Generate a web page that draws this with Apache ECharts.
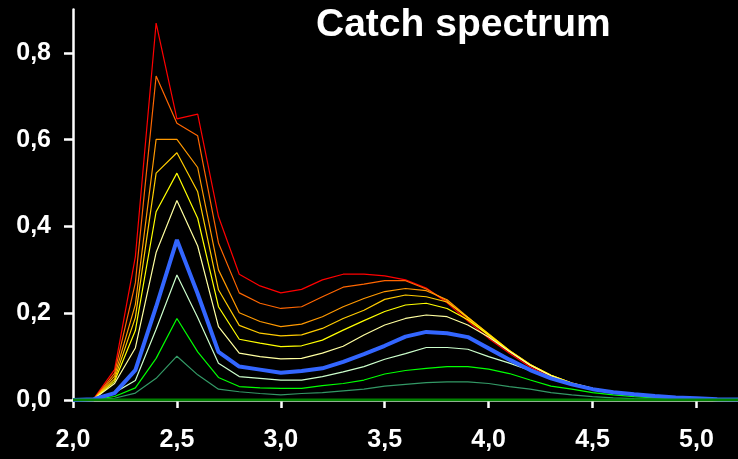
<!DOCTYPE html>
<html>
<head>
<meta charset="utf-8">
<script src="https://cdn.jsdelivr.net/npm/echarts@6/dist/echarts.min.js"></script>
<style>
html,body{margin:0;padding:0;background:#000;}
#chart{width:738px;height:459px;}
</style>
</head>
<body>
<div id="chart"></div>
<script>
var xValues = [2.0,2.1,2.2,2.3,2.4,2.5,2.6,2.7,2.8,2.9,3.0,3.1,3.2,3.3,3.4,3.5,3.6,3.7,3.8,3.9,4.0,4.1,4.2,4.3,4.4,4.5,4.6,4.7,4.8,4.9,5.0,5.1,5.2];
var xTicks = [2.0,2.5,3.0,3.5,4.0,4.5,5.0];
var yTicks = [0.0,0.2,0.4,0.6,0.8];
var titleText = 'Catch spectrum';

var red        = [0,0.003,0.070,0.330,0.869,0.648,0.659,0.423,0.290,0.263,0.247,0.255,0.277,0.290,0.290,0.286,0.277,0.258,0.224,0.182,0.142,0.108,0.076,0.053,0.036,0.025,0.017,0.011,0.007,0.004,0.003,0.002,0.001];
var orangeRed  = [0,0.002,0.062,0.270,0.747,0.638,0.609,0.362,0.247,0.223,0.211,0.215,0.238,0.260,0.267,0.275,0.275,0.256,0.228,0.188,0.148,0.112,0.080,0.056,0.038,0.027,0.018,0.012,0.008,0.005,0.003,0.002,0.001];
var orange     = [0,0.002,0.055,0.220,0.601,0.601,0.536,0.300,0.201,0.181,0.169,0.175,0.192,0.215,0.234,0.250,0.257,0.252,0.231,0.191,0.152,0.114,0.082,0.057,0.039,0.027,0.018,0.012,0.008,0.005,0.003,0.002,0.001];
var yellowOr   = [0,0.002,0.048,0.190,0.523,0.570,0.480,0.254,0.172,0.154,0.148,0.150,0.165,0.188,0.207,0.232,0.242,0.238,0.226,0.190,0.152,0.114,0.082,0.057,0.039,0.027,0.018,0.012,0.008,0.005,0.003,0.002,0.001];
var yellow     = [0,0.002,0.043,0.160,0.434,0.523,0.419,0.215,0.140,0.131,0.123,0.125,0.138,0.161,0.183,0.204,0.219,0.223,0.211,0.185,0.150,0.113,0.081,0.057,0.039,0.027,0.018,0.012,0.008,0.005,0.003,0.002,0.001];
var cream      = [0,0.002,0.038,0.120,0.340,0.460,0.355,0.169,0.108,0.100,0.095,0.096,0.108,0.124,0.150,0.173,0.188,0.196,0.192,0.173,0.145,0.112,0.080,0.056,0.038,0.027,0.018,0.012,0.008,0.005,0.003,0.002,0.001];
var blue       = [0,0.002,0.016,0.069,0.215,0.369,0.245,0.111,0.077,0.070,0.063,0.067,0.073,0.088,0.106,0.125,0.146,0.157,0.154,0.145,0.119,0.093,0.069,0.050,0.036,0.025,0.018,0.013,0.009,0.006,0.004,0.002,0.001];
var pale       = [0,0.001,0.017,0.045,0.163,0.288,0.190,0.085,0.054,0.050,0.046,0.046,0.054,0.065,0.077,0.094,0.107,0.121,0.121,0.117,0.100,0.085,0.068,0.050,0.036,0.025,0.018,0.012,0.008,0.005,0.003,0.002,0.001];
var green      = [0,0.001,0.008,0.028,0.096,0.188,0.111,0.052,0.031,0.028,0.027,0.027,0.033,0.038,0.046,0.060,0.068,0.073,0.077,0.077,0.071,0.061,0.046,0.032,0.025,0.017,0.012,0.008,0.005,0.003,0.002,0.001,0.001];
var darkGreen  = [0,0.001,0.004,0.016,0.050,0.101,0.058,0.025,0.019,0.015,0.012,0.015,0.017,0.021,0.025,0.032,0.036,0.040,0.042,0.042,0.038,0.031,0.025,0.017,0.012,0.008,0.005,0.003,0.002,0.001,0.001,0,0];
var flat       = [0,0,0,0,0,0,0,0,0,0,0,0,0,0,0,0,0,0,0,0,0,0,0,0,0,0,0,0,0,0,0,0,0];

function pairs(arr){ return xValues.map(function(x,i){ return [x, arr[i]]; }); }
function mk(name, arr, color, width){
  return {name:name, type:'line', data:pairs(arr), symbol:'none', smooth:false, animation:false,
          lineStyle:{color:color, width:width}, itemStyle:{color:color}};
}
function fmt(v){ return v.toFixed(1).replace('.', ','); }

var chart = echarts.init(document.getElementById('chart'), null, {renderer:'canvas'});
chart.setOption({
  backgroundColor:'#000000',
  animation:false,
  title:{text:titleText, left:311, top:1,
    textStyle:{color:'#ffffff', fontSize:39, fontWeight:'bold', fontFamily:'Liberation Sans, Arial, sans-serif'}},
  grid:{left:73, right:-7, top:9.6, bottom:59, containLabel:false},
  xAxis:{type:'value', min:2.0, max:5.2, interval:0.5,
    axisLine:{show:true, onZero:false, lineStyle:{color:'#ffffff', width:2.5}},
    axisTick:{show:true, length:8, customValues:xTicks, lineStyle:{color:'#ffffff', width:2.5}},
    axisLabel:{customValues:xTicks, color:'#ffffff', fontSize:25, fontWeight:'bold', margin:28,
      fontFamily:'Liberation Sans, Arial, sans-serif', formatter:fmt},
    splitLine:{show:false}},
  yAxis:{type:'value', min:0, max:0.9, interval:0.2,
    axisLine:{show:true, lineStyle:{color:'#ffffff', width:2.5}},
    axisTick:{show:true, length:9, customValues:yTicks, lineStyle:{color:'#ffffff', width:2.5}},
    axisLabel:{customValues:yTicks, color:'#ffffff', fontSize:25, fontWeight:'bold', margin:22,
      fontFamily:'Liberation Sans, Arial, sans-serif', formatter:fmt},
    splitLine:{show:false}},
  series:[
    mk('s1', red, '#ff0000', 1.2),
    mk('s2', orangeRed, '#ff6600', 1.2),
    mk('s3', orange, '#ff9900', 1.2),
    mk('s4', yellowOr, '#ffcc00', 1.2),
    mk('s5', yellow, '#ffff00', 1.2),
    mk('s6', cream, '#ffffa0', 1.2),
    mk('s8', pale, '#ccffcc', 1.2),
    mk('s9', green, '#00ff00', 1.2),
    mk('s10', darkGreen, '#339966', 1.2),
    mk('s7', blue, '#3366ff', 4),
    mk('s11', flat, '#008000', 3)
  ]
});
</script>
</body>
</html>
